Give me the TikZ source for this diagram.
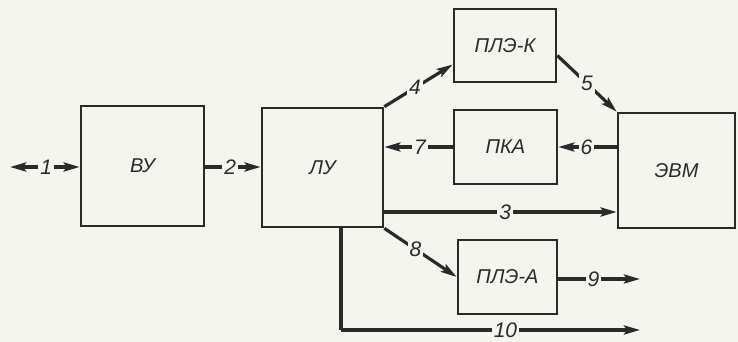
\documentclass[tikz,border=0pt]{standalone}
\usepackage{fontspec}
\setmainfont{Liberation Sans}
\usetikzlibrary{arrows.meta,calc}
\definecolor{bg}{HTML}{F5F5EF}
\definecolor{ink}{HTML}{2A2A2A}
\begin{document}
\begin{tikzpicture}[x=1pt,y=-1pt,
  blk/.style={draw=ink,line width=2.6pt,rectangle,inner sep=0pt,font=\fontsize{20}{22}\selectfont\itshape,text=ink},
  conn/.style={draw=ink,line width=3.2pt,-{Stealth[length=16pt,width=9pt,inset=3pt]}},
  lbl/.style={fill=bg,inner sep=2pt,font=\fontsize{21}{22}\selectfont\itshape,text=ink}]
\fill[bg] (0,0) rectangle (738,342);
\useasboundingbox (0,0) rectangle (738,342);
\node[blk,minimum width=123pt,minimum height=120pt] (vu) at (142.5,166) {ВУ};
\node[blk,minimum width=121pt,minimum height=119pt] (lu) at (322.5,167.5) {ЛУ};
\node[blk,minimum width=102pt,minimum height=73pt] (plk) at (505,45.5) {ПЛЭ-К};
\node[blk,minimum width=103pt,minimum height=74pt] (pka) at (505.5,147) {ПКА};
\node[blk,minimum width=117pt,minimum height=115pt] (evm) at (676.5,170.5) {ЭВМ};
\node[blk,minimum width=99pt,minimum height=74pt] (pla) at (507.5,277) {ПЛЭ-А};
\coordinate (l1) at (10,167);
\coordinate (y3) at (0,212);
\coordinate (e9) at (640,279);
\coordinate (c10) at (341,330);
\coordinate (e10) at (640,330);
\draw[conn,{Stealth[length=16pt,width=9pt,inset=3pt]}-{Stealth[length=16pt,width=9pt,inset=3pt]}] (l1) -- node[lbl,pos=0.52]{1} (vu.west |- l1);
\draw[conn] (vu.east |- l1) -- node[lbl,pos=0.45]{2} (lu.west |- l1);
\draw[conn] (lu.north east) -- node[lbl,pos=0.45]{4} ([yshift=-19pt]plk.west);
\draw[conn] ([yshift=-10pt]plk.east) -- node[lbl,pos=0.5]{5} (evm.north west);
\draw[conn] (pka.west) -- node[lbl,pos=0.48]{7} (lu.east |- pka.west);
\draw[conn] (evm.west |- pka.east) -- node[lbl,pos=0.52]{6} (pka.east);
\draw[conn] (lu.east |- y3) -- node[lbl,pos=0.52]{3} (evm.west |- y3);
\draw[conn] (lu.south east) -- node[lbl,pos=0.43]{8} (pla.west);
\draw[conn] (pla.east |- e9) -- node[lbl,pos=0.43]{9} (e9);
\draw[draw=ink,line width=3.2pt] (lu.south -| c10) -- (c10);
\draw[conn] (c10) -- node[lbl,pos=0.55]{10} (e10);
\end{tikzpicture}
\end{document}
